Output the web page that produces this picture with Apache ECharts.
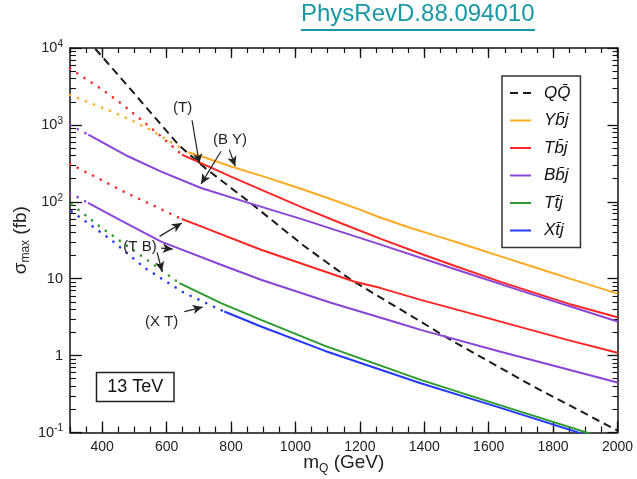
<!DOCTYPE html>
<html><head><meta charset="utf-8">
<script src="https://cdn.jsdelivr.net/npm/echarts@6/dist/echarts.min.js"></script>
<style>html,body{margin:0;padding:0;background:#fff}#c{width:637px;height:479px}</style>
</head><body><div id="c"></div><script>
// ---- tick values ----
const xTicks = [400, 600, 800, 1000, 1200, 1400, 1600, 1800, 2000];
const yMinorTicks = [0.2,0.3,0.4,0.5,0.6,0.7,0.8,0.9, 2,3,4,5,6,7,8,9, 20,30,40,50,60,70,80,90, 200,300,400,500,600,700,800,900, 2000,3000,4000,5000,6000,7000,8000,9000];

// ---- data: mass (GeV) and sigma_max (fb) ----
const qqM = [350, 372, 505, 639, 722, 856, 1026, 1172, 1389, 1482, 1730, 2000];
const qqS = [12900, 10500, 2410, 538, 270, 100, 26.8, 9.7, 2.77, 1.60, 0.416, 0.106];

const ybjDotM = [300, 360, 428, 490, 552, 610, 666];
const ybjDotS = [2450, 1950, 1500, 1150, 850, 610, 441];
const ybjM = [666, 707, 800, 900, 1017, 1100, 1200, 1265, 1358, 1450, 1550, 1637, 1750, 1850, 2000];
const ybjS = [441, 391, 288, 214, 148, 112, 79, 62, 45.6, 34.7, 25.7, 19.5, 13.8, 10.1, 6.4];

const tbjDotM = [300, 400, 459, 520, 583, 647];
const tbjDotS = [5400, 2880, 1900, 1175, 708, 411];
const tbjM = [647, 707, 800, 893, 1017, 1140, 1265, 1400, 1500, 1637, 1750, 1850, 2000];
const tbjS = [411, 319, 213, 144, 86, 53, 33, 20.3, 14.4, 9.1, 6.4, 4.7, 3.15];

const tbj2DotM = [300, 390, 474, 560, 647];
const tbj2DotS = [310, 200, 131, 89, 59.7];
const tbj2M = [647, 707, 893, 1182, 1265, 1389, 1575, 1844, 2000];
const tbj2S = [59.7, 47.9, 23.8, 9.2, 7.55, 5.3, 3.26, 1.60, 1.09];

const bbjDotM = [300, 357];
const bbjDotS = [990, 748];
const bbjM = [357, 480, 583, 707, 862, 1017, 1265, 1482, 1699, 2000];
const bbjS = [748, 391, 247, 151, 94.6, 60, 27.7, 13.9, 7.0, 2.77];

const bbj2DotM = [300, 356];
const bbj2DotS = [130, 96.6];
const bbj2M = [356, 459, 583, 769, 893, 1110, 1327, 1389, 1637, 2000];
const bbj2S = [96.6, 56.8, 30.3, 15.2, 9.7, 4.86, 2.59, 2.16, 1.12, 0.446];

const ttjDotM = [305, 406, 521, 640];
const ttjDotS = [92, 43.4, 19.9, 8.77];
const ttjM = [640, 769, 893, 1092, 1389, 1637, 1911, 1940];
const ttjS = [8.77, 4.82, 2.92, 1.34, 0.483, 0.225, 0.098, 0.088];

const xtjDotM = [305, 428, 531, 654, 779];
const xtjDotS = [75, 32, 13.9, 6.56, 3.74];
const xtjM = [779, 893, 1092, 1389, 1637, 1885, 1910];
const xtjS = [3.74, 2.39, 1.15, 0.437, 0.209, 0.098, 0.09];

// legend names
const names = ['QQ\u0304', 'Yb\u0304j', 'Tb\u0304j', 'Bb\u0304j', 'Tt\u0304j', 'Xt\u0304j'];

// annotation arrows (data coordinates: [mass, sigma])
const arrowLines = [
  [[679, 1149], [701.7, 314]],
  [[769, 454], [707, 171]],
  [[794.7, 477], [813, 290]],
  [[578, 35.5], [647, 53]],
  [[583, 25], [619, 24.3]],
  [[570.5, 22], [586, 12.4]],
  [[655, 3.74], [712, 4.27]]
];

const FONT = 'Liberation Sans, Arial, Helvetica, sans-serif';
const C = {qq:'#1a1a1a', y:'#ffaa22', t:'#ff2626', b:'#8a45d8', tt:'#2c9a2c', x:'#2438ff'};

function pts(m, s){ return m.map((v,i)=>[v, s[i]]); }
function solid(name, m, s, color, dash){
  return {type:'line', name, data:pts(m,s), symbol:'none', silent:true, clip:true, z:3,
    lineStyle:{color, width:2, type: dash || 'solid'}, itemStyle:{color}, emphasis:{disabled:true}};
}
function dotted(name, m, s, color){
  return {type:'line', name, data:pts(m,s), symbol:'none', silent:true, clip:true, z:2,
    lineStyle:{color, width:2.6, type:[0.1, 8.5], cap:'round'}, itemStyle:{color}, emphasis:{disabled:true}};
}

const qqSeries = solid(names[0], qqM, qqS, C.qq, [8,5]);
qqSeries.markLine = {
  silent:true, animation:false, symbol:['none','arrow'], symbolSize:[7,10],
  label:{show:false}, lineStyle:{color:'#222', width:1.2, type:'solid'},
  emphasis:{disabled:true},
  data: arrowLines.map(a => [{coord:a[0]}, {coord:a[1]}])
};

const series = [
  qqSeries,
  solid(names[1], ybjM, ybjS, C.y),
  solid(names[2], tbjM, tbjS, C.t),
  solid(names[3], bbjM, bbjS, C.b),
  solid(names[4], ttjM, ttjS, C.tt),
  solid(names[5], xtjM, xtjS, C.x),
  solid(names[2], tbj2M, tbj2S, C.t),
  solid(names[3], bbj2M, bbj2S, C.b),
  dotted('ybjDot', ybjDotM, ybjDotS, C.y),
  dotted('tbjDot', tbjDotM, tbjDotS, C.t),
  dotted('tbj2Dot', tbj2DotM, tbj2DotS, C.t),
  dotted('bbjDot', bbjDotM, bbjDotS, C.b),
  dotted('bbj2Dot', bbj2DotM, bbj2DotS, C.b),
  dotted('ttjDot', ttjDotM, ttjDotS, C.tt),
  dotted('xtjDot', xtjDotM, xtjDotS, C.x)
];

const axisLine = {show:true, onZero:false, lineStyle:{color:'#111', width:1.5}};
const noLine = {show:false, onZero:false};
const yLab = {'-1':'10{s|-1}', '0':'1', '1':'10', '2':'10{s|2}', '3':'10{s|3}', '4':'10{s|4}'};

const option = {
  animation:false,
  textStyle:{fontFamily:FONT},
  title:{text:'PhysRevD.88.094010', left:301, top:2, padding:0,
    textStyle:{fontFamily:FONT, fontSize:24, fontWeight:'normal', color:'#1898a6'}},
  grid:{left:70, right:19.5, top:48, bottom:46.5, containLabel:false, outerBoundsMode:'none'},
  legend:{
    data:names, orient:'vertical', left:502, top:76, padding:[7,10,7,7],
    itemWidth:21, itemHeight:14, itemGap:7.5,
    itemStyle:{opacity:0},
    borderColor:'#333', borderWidth:1.5, backgroundColor:'#fff',
    selectedMode:false,
    textStyle:{fontFamily:FONT, fontSize:17, fontStyle:'italic', color:'#111', lineHeight:20, padding:[0,0,0,8]}
  },
  xAxis:[
    {type:'value', position:'bottom', min:300, max:2000, axisLine,
     axisTick:{show:true, inside:true, length:11, customValues:xTicks, lineStyle:{color:'#111', width:1.3}},
     axisLabel:{show:true, customValues:xTicks, fontSize:14, color:'#222', margin:8, fontFamily:FONT, formatter:v => String(v)},
     splitLine:{show:false},
     name:'m{sub|Q} (GeV)', nameLocation:'middle', nameGap:19, nameMoveOverlap:false,
     nameTextStyle:{fontSize:19, color:'#222', fontFamily:FONT,
       rich:{sub:{fontSize:12, color:'#222', fontFamily:FONT, padding:[11,0,0,0]}}}},
    {type:'value', position:'bottom', min:300, max:2000, interval:50, axisLine:noLine,
     axisTick:{show:true, inside:true, length:6, lineStyle:{color:'#111', width:1.2}},
     axisLabel:{show:false}, splitLine:{show:false}},
    {type:'value', position:'top', min:300, max:2000, interval:50, axisLine,
     axisTick:{show:true, inside:true, length:5, lineStyle:{color:'#111', width:1.2}},
     axisLabel:{show:false}, splitLine:{show:false}},
    {type:'value', position:'top', min:300, max:2000, axisLine:noLine,
     axisTick:{show:true, inside:true, length:10, customValues:xTicks, lineStyle:{color:'#111', width:1.3}},
     axisLabel:{show:false}, splitLine:{show:false}}
  ],
  yAxis:[
    {type:'log', logBase:10, position:'left', min:0.1, max:10000, axisLine,
     axisTick:{show:true, inside:true, length:12, lineStyle:{color:'#111', width:1.3}},
     axisLabel:{fontSize:14.5, color:'#222', margin:7, fontFamily:FONT,
       formatter:v => yLab[String(Math.round(Math.log10(v)))],
       rich:{s:{fontSize:10, color:'#222', fontFamily:FONT, verticalAlign:'top', padding:[0,0,8,0]}}},
     splitLine:{show:false},
     name:'\u03c3{sub|max} (fb)', nameLocation:'middle', nameGap:38, nameMoveOverlap:false,
     nameTextStyle:{fontSize:19, color:'#222', fontFamily:FONT,
       rich:{sub:{fontSize:12, color:'#222', fontFamily:FONT, padding:[11,0,0,0]}}}},
    {type:'log', logBase:10, position:'right', min:0.1, max:10000, axisLine,
     axisTick:{show:true, inside:true, length:10, lineStyle:{color:'#111', width:1.3}},
     axisLabel:{show:false}, splitLine:{show:false}},
    {type:'value', position:'left', min:-1, max:4, axisLine:noLine,
     axisTick:{show:true, inside:true, length:6, customValues:yMinorTicks.map(Math.log10), lineStyle:{color:'#111', width:1.1}},
     axisLabel:{show:false}, splitLine:{show:false}},
    {type:'value', position:'right', min:-1, max:4, axisLine:noLine,
     axisTick:{show:true, inside:true, length:5, customValues:yMinorTicks.map(Math.log10), lineStyle:{color:'#111', width:1.1}},
     axisLabel:{show:false}, splitLine:{show:false}}
  ],
  graphic:[
    {type:'line', shape:{x1:301, y1:30, x2:535, y2:30}, style:{stroke:'#1898a6', lineWidth:2}, silent:true},
    {type:'rect', shape:{x:96.5, y:372.5, width:77.5, height:29}, style:{fill:'#fff', stroke:'#222', lineWidth:1.5}, silent:true, z:10},
    {type:'text', x:135.3, y:387.5, style:{text:'13 TeV', font:'18px '+FONT, fill:'#111', align:'center', verticalAlign:'middle'}, silent:true, z:11},
    {type:'text', x:182.7, y:108.3, style:{text:'(T)', font:'15px '+FONT, fill:'#222', align:'center', verticalAlign:'middle'}, silent:true, z:11},
    {type:'text', x:230, y:140, style:{text:'(B Y)', font:'15px '+FONT, fill:'#222', align:'center', verticalAlign:'middle'}, silent:true, z:11},
    {type:'text', x:140, y:246.7, style:{text:'(T B)', font:'15px '+FONT, fill:'#222', align:'center', verticalAlign:'middle'}, silent:true, z:11},
    {type:'text', x:161.7, y:321.7, style:{text:'(X T)', font:'15px '+FONT, fill:'#222', align:'center', verticalAlign:'middle'}, silent:true, z:11}
  ],
  series
};
const chart = echarts.init(document.getElementById('c'), null, {renderer:'canvas'});
chart.setOption(option);
</script></body></html>
